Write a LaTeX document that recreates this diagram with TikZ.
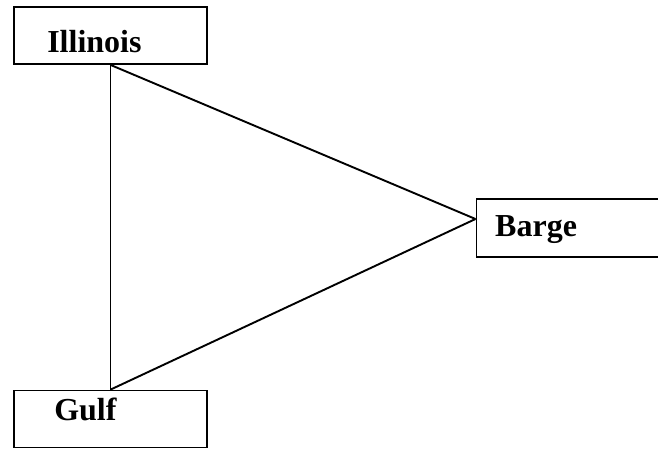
\documentclass[tikz,border=0pt]{standalone}
\usepackage{fontspec}
\setmainfont{Liberation Serif}
\usetikzlibrary{positioning}
\tikzset{
  placebox/.style={draw,line width=1.8pt,minimum width=193pt,minimum height=57pt,inner sep=0pt},
  placename/.style={anchor=base west,inner sep=0pt,font=\fontsize{32}{36}\selectfont\bfseries},
  link/.style={line width=1.9pt}
}
\begin{document}
\begin{tikzpicture}[x=1pt,y=1pt]
\useasboundingbox (0,0) rectangle (658,-448);
\clip (0,0) rectangle (658,-448);
\node[placebox] (illinois) at (110.5,-35.5) {};
\node[placebox] (gulf) at (110.5,-419) {};
\node[placebox,minimum width=200pt,minimum height=58pt,anchor=west] (barge) at (475.5,-228) {};
\node[placename] (illinoistext) at ([xshift=34pt,yshift=-46pt]illinois.north west) {Illinois};
\node[placename] (gulftext) at ([xshift=41pt,yshift=-30.5pt]gulf.north west) {Gulf};
\node[placename] (bargetext) at ([xshift=19.5pt,yshift=-38pt]barge.north west) {Barge};
\coordinate (meet) at ([yshift=9pt]barge.west);
\draw[link] (illinois.south) -- (gulf.north);
\draw[link] (illinois.south) -- (meet);
\draw[link] (gulf.north) -- (meet);
\end{tikzpicture}
\end{document}
